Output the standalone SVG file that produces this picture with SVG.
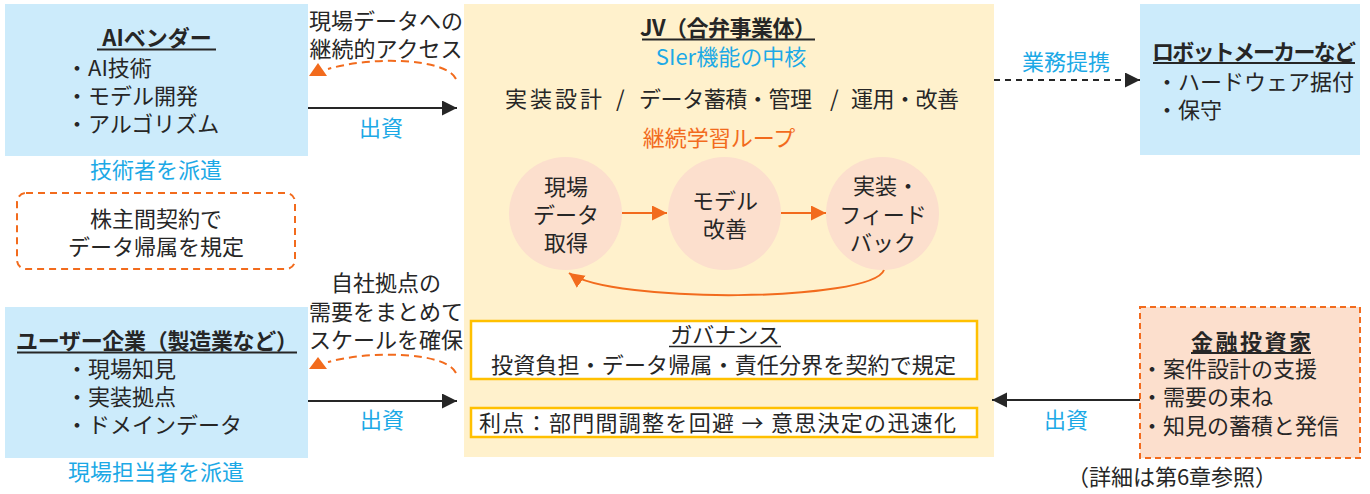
<svg xmlns="http://www.w3.org/2000/svg" width="1370" height="494" viewBox="0 0 1370 494">
<defs>
<style>
.t{font-family:"Noto Sans CJK JP","Noto Sans",sans-serif;font-size:22px;fill:#262626}
.b{font-weight:bold}
.m{text-anchor:middle}
.c{fill:#1CA9E6}
.o{fill:#F26B1D}
.ul{stroke:#262626;stroke-width:2}
.blue{fill:#CCEBFB}
.circ{fill:#FCDFCD}
.ln{stroke:#262626;stroke-width:2;fill:none}
.ol{stroke:#F26B1D;stroke-width:2;fill:none}
.od{stroke:#F26B1D;stroke-width:2;fill:none;stroke-dasharray:8 5}
.gold{fill:#FFFFFF;stroke:#FFC000;stroke-width:2.5}
</style>
<marker id="ab" markerUnits="userSpaceOnUse" markerWidth="16" markerHeight="16" refX="15" refY="7.5" orient="auto"><path d="M0,0 L15,7.5 L0,15 Z" fill="#262626"/></marker>
<marker id="ao" markerUnits="userSpaceOnUse" markerWidth="16" markerHeight="16" refX="15" refY="7.5" orient="auto"><path d="M0,0 L15,7.5 L0,15 Z" fill="#F26B1D"/></marker>
</defs>

<g id="jv">
<rect x="464" y="4" width="530" height="453" fill="#FFF1CC"/>
<text class="t b" x="640" y="36" textLength="176">JV（合弁事業体）</text>
<line class="ul" x1="642" y1="39.5" x2="815" y2="39.5"/>
<text class="t c m" x="731" y="65" font-size="24">SIer機能の中核</text>
<text class="t" x="505" y="107" font-size="23" textLength="97">実装設計</text>
<text class="t" x="616" y="107" font-size="23">/</text>
<text class="t" x="639" y="107" font-size="23" textLength="173">データ蓄積・管理</text>
<text class="t" x="830" y="107" font-size="23">/</text>
<text class="t" x="851" y="107" font-size="23" textLength="108">運用・改善</text>
<text class="t o m" x="719" y="146" font-size="23">継続学習ループ</text>
</g>

<g id="loop-data">
<circle class="circ" cx="565.5" cy="213.5" r="56.5"/>
<text class="t m" x="566" y="195">現場</text>
<text class="t m" x="566" y="223">データ</text>
<text class="t m" x="566" y="251">取得</text>
</g>
<g id="loop-model">
<circle class="circ" cx="724.5" cy="213.5" r="56.5"/>
<text class="t m" x="725" y="209">モデル</text>
<text class="t m" x="725" y="237">改善</text>
</g>
<g id="loop-feedback">
<circle class="circ" cx="882.5" cy="213.5" r="56.5"/>
<text class="t m" x="886" y="194">実装・</text>
<text class="t m" x="883" y="223">フィード</text>
<text class="t m" x="883" y="251">バック</text>
</g>

<g id="governance">
<rect class="gold" x="471" y="321" width="506" height="58"/>
<text class="t m" x="725" y="343">ガバナンス</text>
<line x1="669" y1="346.5" x2="781" y2="346.5" stroke="#262626" stroke-width="1.5"/>
<text class="t" x="491" y="373" textLength="465">投資負担・データ帰属・責任分界を契約で規定</text>
</g>
<g id="advantage">
<rect class="gold" x="471" y="408" width="506" height="29"/>
<text class="t" x="479" y="431" textLength="477">利点：部門間調整を回避 → 意思決定の迅速化</text>
</g>

<g id="ai-vendor">
<rect class="blue" x="5" y="4" width="303" height="152"/>
<text class="t b m" x="157" y="46">AIベンダー</text>
<line class="ul" x1="97" y1="49.5" x2="216" y2="49.5"/>
<text class="t" x="66" y="76">・AI技術</text>
<text class="t" x="66" y="104">・モデル開発</text>
<text class="t" x="66" y="132">・アルゴリズム</text>
<text class="t c m" x="156" y="178">技術者を派遣</text>
</g>

<g id="contract-note">
<rect x="17" y="193" width="278" height="76" rx="9" fill="none" stroke="#F26B1D" stroke-width="2" stroke-dasharray="7 5"/>
<text class="t m" x="156" y="227">株主間契約で</text>
<text class="t m" x="156" y="255">データ帰属を規定</text>
</g>

<g id="user-company">
<rect class="blue" x="5" y="307" width="303" height="151"/>
<text class="t b" x="16" y="349" textLength="282">ユーザー企業（製造業など）</text>
<line class="ul" x1="17" y1="352.5" x2="297" y2="352.5"/>
<text class="t" x="66" y="377">・現場知見</text>
<text class="t" x="66" y="405">・実装拠点</text>
<text class="t" x="66" y="433">・ドメインデータ</text>
<text class="t c m" x="156" y="480">現場担当者を派遣</text>
</g>

<g id="robot-maker">
<rect class="blue" x="1140" y="4" width="220" height="151"/>
<text class="t b" x="1152" y="60" font-size="21" textLength="204">ロボットメーカーなど</text>
<line class="ul" x1="1153" y1="63" x2="1355" y2="63"/>
<text class="t" x="1156" y="90">・ハードウェア据付</text>
<text class="t" x="1156" y="118">・保守</text>
</g>

<g id="financial-investor">
<rect x="1140" y="307" width="220" height="151" fill="#FCDFCD" stroke="#F26B1D" stroke-width="2" stroke-dasharray="6 4"/>
<text class="t b m" x="1251" y="350" textLength="120">金融投資家</text>
<line class="ul" x1="1191" y1="353" x2="1311" y2="353"/>
<text class="t" x="1141" y="377">・案件設計の支援</text>
<text class="t" x="1141" y="405">・需要の束ね</text>
<text class="t" x="1141" y="434">・知見の蓄積と発信</text>
</g>

<g id="connectors">
<line class="ln" x1="308" y1="108" x2="457" y2="108" marker-end="url(#ab)"/>
<text class="t c m" x="381" y="136">出資</text>
<path class="od" d="M456,79 C446,58 372,56 328,69"/>
<polygon points="318,63 309,76 327,76" fill="#F26B1D"/>
<text class="t m" x="386" y="29">現場データへの</text>
<text class="t m" x="386" y="57">継続的アクセス</text>

<line class="ln" x1="308" y1="401" x2="457" y2="401" marker-end="url(#ab)"/>
<text class="t c m" x="382" y="428">出資</text>
<path class="od" d="M456,373 C446,352 372,350 328,362"/>
<polygon points="318,357 309,369 327,369" fill="#F26B1D"/>
<text class="t m" x="386" y="291">自社拠点の</text>
<text class="t m" x="386" y="320">需要をまとめて</text>
<text class="t m" x="386" y="348">スケールを確保</text>

<line class="ln" x1="994" y1="80" x2="1140" y2="80" stroke-dasharray="6 5" marker-end="url(#ab)"/>
<text class="t c m" x="1066" y="70">業務提携</text>

<line class="ln" x1="1140" y1="400" x2="992" y2="400" marker-end="url(#ab)"/>
<text class="t c m" x="1066" y="428">出資</text>

<line class="ol" x1="622" y1="213" x2="667" y2="213" marker-end="url(#ao)"/>
<line class="ol" x1="781" y1="213" x2="826" y2="213" marker-end="url(#ao)"/>
<path class="ol" d="M884,270 C872,302 612,304 569,273" marker-end="url(#ao)"/>
</g>

<text class="t m" x="1172" y="485">（詳細は第6章参照）</text>
</svg>
